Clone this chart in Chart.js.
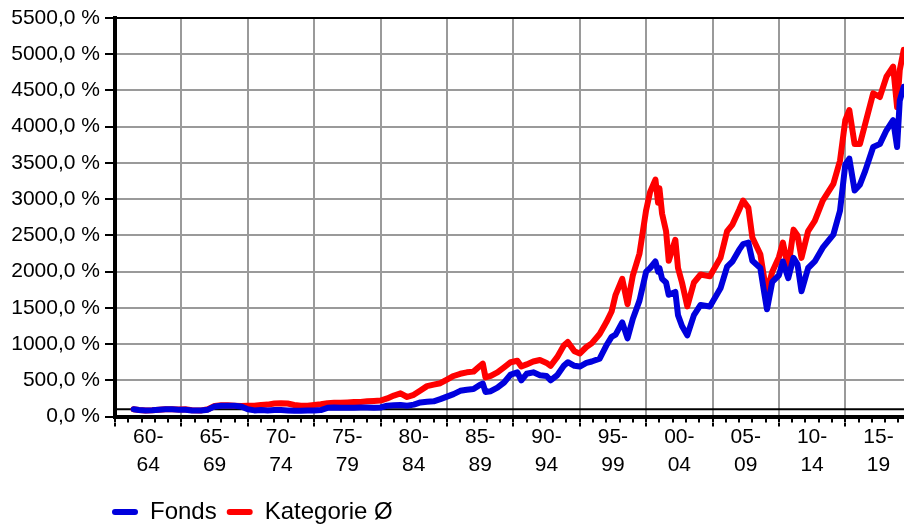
<!DOCTYPE html>
<html><head><meta charset="utf-8">
<script src="https://cdn.jsdelivr.net/npm/chart.js@4.4.1/dist/chart.umd.min.js"></script>
<style>html,body{margin:0;padding:0;background:#fff;overflow:hidden}#wrap{width:904px;height:534px;position:relative}</style>
</head><body><div id="wrap"><canvas id="c"></canvas></div>
<script>
// time points (decimal years)
const dates = [1961.4,1961.8,1962.3,1962.8,1963.3,1963.8,1964.3,1964.8,1965.3,1965.8,1966.5,1967.0,1967.5,1968.0,1968.5,1969.0,1969.5,
1970.0,1970.5,1971.0,1971.5,1972.0,1972.5,1973.0,1973.5,1974.0,1974.5,1975.0,1975.5,1976.0,1976.5,1977.0,1977.5,1978.0,1978.5,1979.0,1979.5,
1980.0,1980.5,1981.0,1981.5,1982.0,1982.5,1983.0,1983.5,1984.0,1984.5,1985.0,1985.5,1986.0,1986.5,1987.0,1987.5,1987.7,1987.9,1988.3,1988.8,
1989.3,1989.8,1990.3,1990.6,1991.0,1991.5,1992.0,1992.5,1992.8,1993.3,1993.8,1994.1,1994.6,1995.0,1995.5,1995.9,1996.5,1997.0,1997.4,1997.7,
1998.2,1998.6,1999.0,1999.5,2000.0,2000.3,2000.7,2000.9,2001.0,2001.2,2001.5,2001.7,2002.2,2002.4,2002.7,2003.1,2003.6,2004.1,2004.8,2005.6,
2006.1,2006.5,2007.0,2007.3,2007.7,2008.0,2008.6,2008.9,2009.1,2009.5,2010.0,2010.3,2010.7,2011.1,2011.4,2011.7,2012.2,2012.7,2013.3,2014.1,
2014.6,2015.0,2015.3,2015.7,2016.1,2016.5,2017.1,2017.6,2018.1,2018.6,2018.9,2019.1,2019.4];
const fonds = [100,90,85,88,95,100,100,95,95,85,85,95,140,150,150,150,140,
100,85,90,85,90,90,85,80,80,85,85,90,120,125,120,120,120,125,125,120,
125,150,155,160,150,165,195,205,210,240,275,310,355,370,380,440,455,340,350,400,
470,580,610,500,590,610,570,560,500,570,700,750,700,690,740,760,800,980,1100,1130,
1300,1080,1350,1600,2000,2050,2140,2000,2050,1900,1850,1680,1720,1400,1250,1120,1400,1540,1520,1770,
2070,2140,2300,2380,2400,2150,2050,1700,1480,1860,1950,2140,1910,2190,2100,1730,2050,2140,2330,2510,
2840,3480,3560,3120,3200,3390,3720,3760,3950,4090,3720,4360,4550];
const kategorie = [100,92,85,88,95,100,102,98,100,88,85,100,145,155,155,150,145,
150,150,160,165,180,185,180,160,150,150,160,170,185,190,190,195,200,200,210,215,
220,250,290,320,270,300,360,420,440,460,510,560,590,610,620,700,730,540,560,610,
680,750,770,690,720,760,780,740,700,820,980,1030,900,870,960,1010,1140,1300,1450,1680,
1900,1550,1950,2250,2850,3100,3270,2950,3150,2800,2560,2150,2440,2050,1850,1520,1850,1960,1935,2190,
2560,2650,2850,2980,2880,2470,2240,1900,1720,2000,2200,2400,2050,2580,2500,2190,2560,2700,2980,3210,
3530,4090,4230,3760,3760,4040,4460,4410,4690,4830,4270,4780,5060];
const baselineX = [1960, 2019.42];
const baselineY = [100, 100];
const seriesNames = ['Fonds', 'Kategorie Ø'];
const xGroupStarts = [1960,1965,1970,1975,1980,1985,1990,1995,2000,2005,2010,2015];
const xGroupLabels = [['60-','64'],['65-','69'],['70-','74'],['75-','79'],['80-','84'],['85-','89'],['90-','94'],['95-','99'],['00-','04'],['05-','09'],['10-','14'],['15-','19']];
const yTickValues = [0,500,1000,1500,2000,2500,3000,3500,4000,4500,5000,5500];

const FONT = "'Liberation Sans', Arial, sans-serif";
const X_MIN = 1960, X_MAX = 2019.42;
const GRID = '#9a9a9a';

const toXY = (xs, ys) => xs.map((x, i) => ({x, y: ys[i]}));

const legendShift = {
  id: 'legendShift',
  afterLayout(chart) {
    const l = chart.legend;
    if (l) { l.left -= 13; l.right -= 13; }
  }
};

new Chart(document.getElementById('c'), {
  type: 'line',
  data: {
    datasets: [
      {label: seriesNames[0], data: toXY(dates, fonds), borderColor: '#0000dd', backgroundColor: '#0000dd',
       borderWidth: 6, pointRadius: 0, tension: 0, order: 0, borderJoinStyle: 'round', borderCapStyle: 'round'},
      {label: seriesNames[1], data: toXY(dates, kategorie), borderColor: '#ff0000', backgroundColor: '#ff0000',
       borderWidth: 6, pointRadius: 0, tension: 0, order: 1, borderJoinStyle: 'round', borderCapStyle: 'round'},
      {label: 'base', data: toXY(baselineX, baselineY), borderColor: '#000', backgroundColor: '#000',
       borderWidth: 2, pointRadius: 0, order: 2}
    ]
  },
  options: {
    responsive: true, maintainAspectRatio: false, animation: false,
    layout: {padding: {top: 18, right: 0, left: 0, bottom: 0}},
    plugins: {
      tooltip: {enabled: false},
      legend: {
        position: 'bottom', align: 'start', fullSize: false,
        labels: {
          color: '#000', font: {family: FONT, size: 24}, boxWidth: 26, boxHeight: 6, padding: 10,
          useBorderRadius: true, borderRadius: 3,
          filter: it => it.text !== 'base',
          generateLabels: chart => Chart.defaults.plugins.legend.labels.generateLabels(chart).map(l => ({...l, lineWidth: 0}))
        }
      }
    },
    scales: {
      x: {
        type: 'linear', min: X_MIN, max: X_MAX, position: 'bottom', weight: 0,
        afterBuildTicks: s => { const t = []; for (let y = 1960; y <= 2019; y++) t.push({value: y}); s.ticks = t; },
        ticks: {display: false, autoSkip: false},
        grid: {
          color: c => (c.tick && c.tick.value % 5 === 0) ? GRID : 'rgba(0,0,0,0)',
          lineWidth: 2, tickColor: '#000', tickLength: 6, tickWidth: 2
        },
        border: {color: '#000', width: 4}
      },
      x2: {
        type: 'linear', min: X_MIN, max: X_MAX, position: 'bottom', weight: 1,
        afterBuildTicks: s => { const t = []; xGroupStarts.forEach(g => { t.push({value: g}); t.push({value: g + 2.5}); }); s.ticks = t; },
        ticks: {
          autoSkip: false, maxRotation: 0, color: '#000', padding: -3,
          font: {family: FONT, size: 21, lineHeight: 1.32},
          callback: v => { const i = xGroupStarts.indexOf(v - 2.5); return i >= 0 ? xGroupLabels[i] : ''; }
        },
        grid: {
          drawOnChartArea: false, lineWidth: 2, tickLength: 4,
          tickColor: c => (c.tick && c.tick.value % 5 === 0) ? '#000' : 'rgba(0,0,0,0)'
        },
        border: {display: false},
        title: {display: true, text: '', font: {size: 10, lineHeight: 1.4}, padding: 0}
      },
      y: {
        min: 0, max: 5500,
        afterBuildTicks: s => { s.ticks = yTickValues.map(v => ({value: v})); },
        afterFit: s => { s.width = 115; },
        ticks: {
          color: '#000', padding: 5, font: {family: FONT, size: 21},
          callback: v => v.toFixed(1).replace('.', ',') + ' %'
        },
        grid: {
          color: c => (c.tick && c.tick.value === 5500) ? '#000' : GRID,
          lineWidth: 2, tickColor: '#000', tickLength: 10, tickWidth: 2
        },
        border: {color: '#000', width: 4}
      }
    }
  },
  plugins: [legendShift]
});
</script></body></html>
